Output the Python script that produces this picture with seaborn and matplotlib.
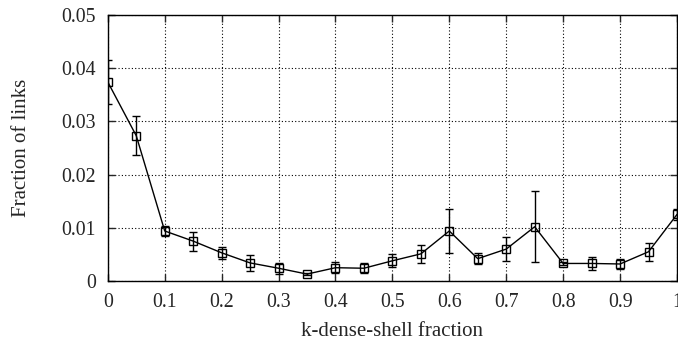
import matplotlib
matplotlib.use("Agg")
import matplotlib.pyplot as plt
import seaborn as sns
import numpy as np
import pandas as pd

x_vals = [0.0, 0.05, 0.1, 0.15, 0.2, 0.25, 0.3, 0.35, 0.4, 0.45, 0.5,
          0.55, 0.6, 0.65, 0.7, 0.75, 0.8, 0.85, 0.9, 0.95, 1.0]
y_vals = [0.0374, 0.0273, 0.0094, 0.0075, 0.0053, 0.0034, 0.0024, 0.0013,
          0.0025, 0.0024, 0.0038, 0.0051, 0.0094, 0.0042, 0.0060, 0.0102,
          0.0033, 0.0033, 0.0032, 0.0055, 0.0125]
y_err = [0.0041, 0.0037, 0.0009, 0.0018, 0.0011, 0.0015, 0.0010, 0.0002,
         0.0010, 0.0009, 0.0012, 0.0017, 0.0042, 0.0010, 0.0022, 0.0067,
         0.0002, 0.0013, 0.0009, 0.0017, 0.0010]
x_ticks = [0, 0.1, 0.2, 0.3, 0.4, 0.5, 0.6, 0.7, 0.8, 0.9, 1.0]
x_ticklabels = ["0", "0.1", "0.2", "0.3", "0.4", "0.5", "0.6", "0.7", "0.8", "0.9", "1"]
y_ticks = [0, 0.01, 0.02, 0.03, 0.04, 0.05]
y_ticklabels = ["0", "0.01", "0.02", "0.03", "0.04", "0.05"]

sns.set_style("white")
plt.rcParams['font.family'] = ['Liberation Serif', 'DejaVu Serif']

df = pd.DataFrame({"x": x_vals, "y": y_vals, "err": y_err})

fig = plt.figure(figsize=(6.78, 3.40), dpi=100)
ax = fig.add_axes([0.159, 0.1735, 0.8395, 0.7825])

ax.errorbar(df["x"], df["y"], yerr=df["err"], fmt="none", ecolor="black",
            elinewidth=1.0, capsize=3, capthick=1.0, zorder=3)
sns.lineplot(data=df, x="x", y="y", ax=ax, color="black", linewidth=1.0,
             marker="s", markersize=6, markerfacecolor="none",
             markeredgecolor="black", markeredgewidth=1.0, zorder=4)

ax.set_xlim(0, 1)
ax.set_ylim(0, 0.05)
ax.set_xticks(x_ticks)
ax.set_xticklabels(x_ticklabels)
ax.set_yticks(y_ticks)
ax.set_yticklabels(y_ticklabels)
ax.grid(True, linestyle=(0, (1, 2)), color="black", linewidth=0.8)
ax.tick_params(direction="in", length=5, width=1, labelsize=14.3, pad=8.5,
               top=True, right=True, bottom=True, left=True)
for s in ax.spines.values():
    s.set_color("black")
    s.set_linewidth(1.0)

ax.set_xlabel("k-dense-shell fraction", fontsize=15, labelpad=7)
ax.set_ylabel("Fraction of links", fontsize=15, labelpad=22)

fig.savefig("out.png", dpi=100)
